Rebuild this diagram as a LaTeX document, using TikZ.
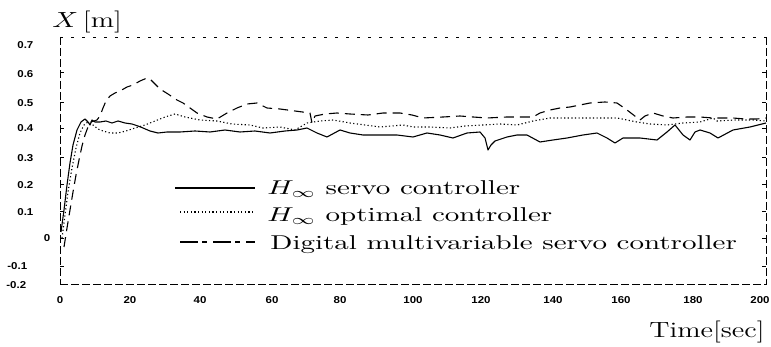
\documentclass[tikz,border=0pt]{standalone}
\usepackage{fontspec}
\usepackage{graphicx}
\newfontfamily\ticksf{Liberation Sans}
\begin{document}
\begin{tikzpicture}[x=0.5pt,y=-0.5pt,
  frm/.style={line width=0.4pt, dash pattern=on 4pt off 1.5pt},
  frmtop/.style={line width=0.4pt, dash pattern=on 1.5pt off 4pt},
  tickmark/.style={line width=0.4pt},
  solidc/.style={line width=0.55pt, line join=round},
  dotc/.style={line width=0.55pt, dash pattern=on 0.6pt off 1.2pt},
  dashc/.style={line width=0.55pt, dash pattern=on 5pt off 3pt, line join=round},
  legdash/.style={line width=0.6pt, dash pattern=on 9pt off 2pt on 2.5pt off 3pt},
  ticklab/.style={font=\ticksf\bfseries\fontsize{5}{6}\selectfont, inner sep=0pt},
  legtext/.style={anchor=base west, inner sep=0pt}
]
\useasboundingbox (0,0) rectangle (771,347);

% frame
\draw[frmtop] (60,37) -- (766,37);
\draw[frm] (60,37) -- (60,285);
\draw[frm] (766,37) -- (766,285);
\draw[frm] (60,284) -- (766,284);

% y ticks
\foreach \yy in {72,102,128,157,184,211,238,266}{
  \draw[tickmark] (60,\yy) -- (64,\yy);
  \draw[tickmark] (762,\yy) -- (766,\yy);
}

% y tick labels
\node[ticklab, anchor=west] (y7) at (17,45) {\scalebox{1.15}[1]{0.7}};
\node[ticklab, anchor=west] (y6) at (17,74) {\scalebox{1.15}[1]{0.6}};
\node[ticklab, anchor=west] (y5) at (17,103) {\scalebox{1.15}[1]{0.5}};
\node[ticklab, anchor=west] (y4) at (17,128) {\scalebox{1.15}[1]{0.4}};
\node[ticklab, anchor=west] (y3) at (17,158) {\scalebox{1.15}[1]{0.3}};
\node[ticklab, anchor=west] (y2) at (17,185) {\scalebox{1.15}[1]{0.2}};
\node[ticklab, anchor=west] (y1) at (17,212) {\scalebox{1.15}[1]{0.1}};
\node[ticklab] (y0) at (47,238) {\scalebox{1.15}[1]{0}};
\node[ticklab, anchor=west] (ym1) at (7,266) {\scalebox{1.15}[1]{-0.1}};
\node[ticklab, anchor=west] (ym2) at (6,285) {\scalebox{1.15}[1]{-0.2}};

% x tick labels
\foreach \t/\xx in {0/60,20/130,40/200,60/272,80/340,100/413,120/481,140/553,160/621,180/693,200/760}{
  \node[ticklab] (xl\t) at (\xx,300) {\scalebox{1.15}[1]{\t}};
}

% axis titles
\node[anchor=base west, inner sep=0pt] (ylab) at (52,28) {\scalebox{1.3}[1]{\fontsize{11}{13}\selectfont $X$\,[m]}};
\node[anchor=base east, inner sep=0pt] (xlab) at (765,337) {\scalebox{1.3}[1]{\fontsize{11}{13}\selectfont Time[sec]}};

% curves
\draw[solidc] (61,232) -- (64,210) -- (67,185) -- (70,163) -- (73,145) -- (77,130) -- (81,122) -- (85,119) -- (88,122) -- (90,125) -- (92,120) -- (95,122) -- (100,122) -- (106,121) -- (112,123) -- (118,121) -- (125,123) -- (132,124) -- (138,126) -- (143,128) -- (150,131) -- (158,133) -- (167,132) -- (180,132) -- (195,131) -- (210,132) -- (225,130) -- (240,132) -- (255,131) -- (270,133) -- (285,131) -- (297,130) -- (307,128) -- (317,133) -- (327,137) -- (340,130) -- (350,133) -- (363,135) -- (380,135) -- (397,135) -- (413,137) -- (427,133) -- (440,135) -- (453,138) -- (467,133) -- (480,132) -- (485,138) -- (488,150) -- (491,145) -- (495,141) -- (507,137) -- (517,135) -- (527,135) -- (540,142) -- (553,140) -- (567,138) -- (583,135) -- (597,133) -- (607,138) -- (615,143) -- (623,138) -- (640,138) -- (657,140) -- (667,132) -- (675,125) -- (683,135) -- (690,140) -- (695,132) -- (700,130) -- (710,133) -- (718,138) -- (733,130) -- (750,127) -- (766,123);

\draw[dotc] (62,238) -- (65,215) -- (68,192) -- (72,168) -- (76,148) -- (80,133) -- (84,125) -- (88,122) -- (93,125) -- (98,129) -- (103,131) -- (110,133) -- (118,133) -- (126,131) -- (135,128) -- (145,125) -- (155,121) -- (165,117) -- (175,114) -- (185,117) -- (200,120) -- (217,121) -- (232,124) -- (250,125) -- (263,128) -- (280,127) -- (295,130) -- (307,123) -- (320,121) -- (333,120) -- (350,123) -- (365,125) -- (380,127) -- (403,125) -- (413,127) -- (430,127) -- (450,128) -- (465,126) -- (483,125) -- (500,124) -- (517,125) -- (533,121) -- (550,118) -- (567,118) -- (580,118) -- (597,118) -- (617,118) -- (637,122) -- (650,124) -- (667,125) -- (683,123) -- (700,122) -- (713,118) -- (717,121) -- (735,120) -- (753,120) -- (766,121);

\draw[dashc] (64,247) -- (67,228) -- (70,210) -- (73,192) -- (76,175) -- (79,160) -- (82,146) -- (85,135) -- (88,127) -- (91,122) -- (94,121) -- (97,120) -- (100,116) -- (103,108) -- (106,101) -- (110,96) -- (115,93) -- (120,91) -- (127,87) -- (133,85) -- (140,81) -- (147,78) -- (150,79) -- (155,84) -- (160,89) -- (168,94) -- (177,100) -- (183,103) -- (190,108) -- (197,113) -- (207,117) -- (217,119) -- (227,113) -- (237,108) -- (247,104) -- (257,103) -- (267,108) -- (280,109) -- (295,111) -- (310,113) -- (312,123) -- (315,116) -- (325,114) -- (337,113) -- (350,114) -- (368,115) -- (383,113) -- (400,113) -- (412,115) -- (423,118) -- (443,117) -- (460,116) -- (473,117) -- (487,118) -- (507,117) -- (520,117) -- (533,117) -- (540,113) -- (550,110) -- (560,108) -- (570,107) -- (580,105) -- (590,103) -- (605,102) -- (617,103) -- (627,110) -- (640,120) -- (645,116) -- (653,113) -- (663,116) -- (673,118) -- (687,117) -- (700,117) -- (713,118) -- (733,118) -- (745,119) -- (757,119) -- (766,118);

% legend
\coordinate (l1a) at (175,188); \coordinate (l1b) at (255,188);
\coordinate (l2a) at (180,212); \coordinate (l2b) at (255,212);
\coordinate (l3a) at (180,242); \coordinate (l3b) at (255,242);
\draw[solidc] (l1a) -- (l1b);
\draw[dotc] (l2a) -- (l2b);
\draw[legdash] (l3a) -- (l3b);
\node[legtext] (t1) at (267,195) {\scalebox{1.45}[1]{\fontsize{10}{12}\selectfont $H_\infty$ servo controller}};
\node[legtext] (t2) at (267,222) {\scalebox{1.45}[1]{\fontsize{10}{12}\selectfont $H_\infty$ optimal controller}};
\node[legtext] (t3) at (270,250) {\scalebox{1.45}[1]{\fontsize{10}{12}\selectfont Digital multivariable servo controller}};
\end{tikzpicture}
\end{document}
